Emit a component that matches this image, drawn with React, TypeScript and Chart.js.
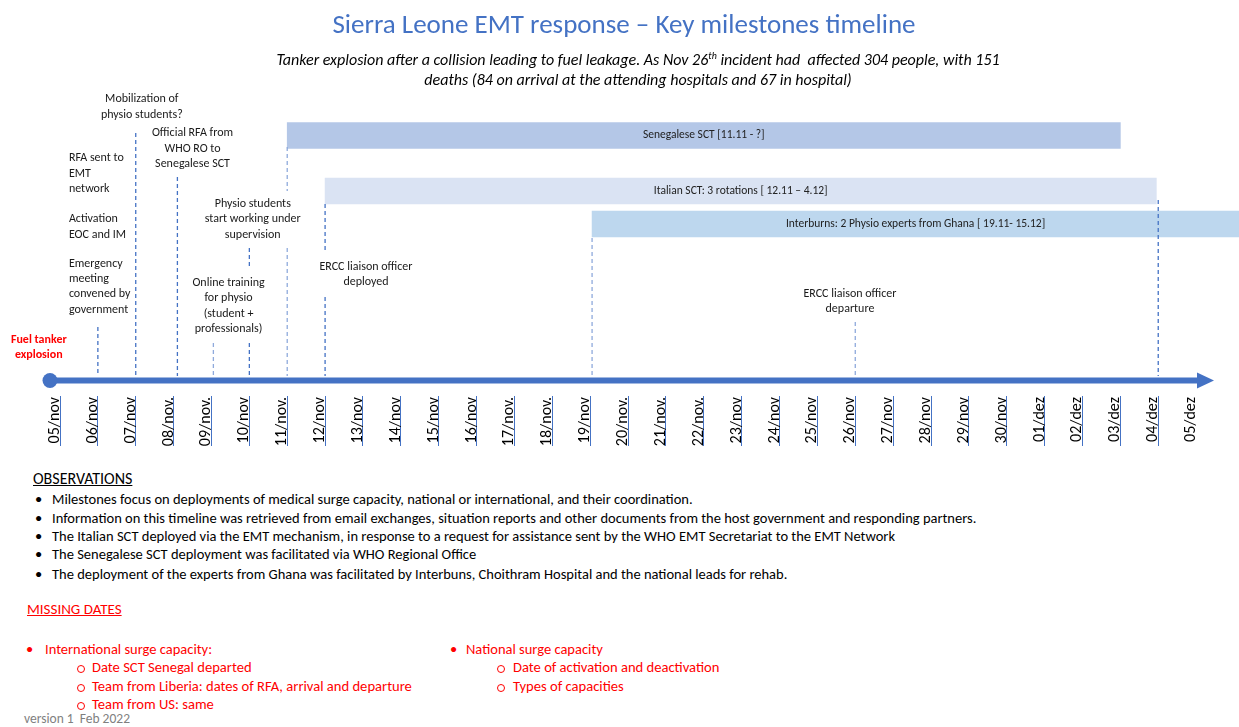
import React, { useEffect, useRef } from 'react';
import { Chart, registerables } from 'chart.js';

Chart.register(...registerables);

// ---------- data ----------
const DATE_LABELS = [
  '05/nov', '06/nov', '07/nov', '08/nov.', '09/nov.', '10/nov', '11/nov.', '12/nov',
  '13/nov', '14/nov', '15/nov', '16/nov', '17/nov.', '18/nov.', '19/nov', '20/nov.',
  '21/nov.', '22/nov.', '23/nov', '24/nov', '25/nov', '26/nov', '27/nov', '28/nov',
  '29/nov', '30/nov', '01/dez', '02/dez', '03/dez', '04/dez', '05/dez',
];

// day index counted from 05/nov
const BAR_LABELS = [
  'Senegalese SCT [11.11 - ?]',
  'Italian SCT: 3 rotations [ 12.11 – 4.12]',
  'Interburns: 2 Physio experts from Ghana [ 19.11- 15.12]',
];
const BAR_START = [6, 7, 14.05];
const BAR_END = [28, 28.95, 40];

const MILESTONE_DAYS = [1, 2, 3.1, 4.05, 5, 6, 7, 14.05, 21, 29];

const NOTE_TEXTS = [
  ['Mobilization of', 'physio students?'],
  ['RFA sent to', 'EMT', 'network'],
  ['Activation', 'EOC and IM'],
  ['Emergency', 'meeting', 'convened by', 'government'],
  ['Fuel tanker', 'explosion'],
  ['Official RFA from', 'WHO RO to', 'Senegalese SCT'],
  ['Physio students', 'start working under', 'supervision'],
  ['Online training', 'for physio', '(student +', 'professionals)'],
  ['ERCC liaison officer', 'deployed'],
  ['ERCC liaison officer', 'departure'],
];

const AXIS_START = -0.264;
const AXIS_END = 30.05;

const TITLE = 'Sierra Leone EMT response – Key milestones timeline';
const SUBTITLE_A = 'Tanker explosion after a collision leading to fuel leakage. As Nov 26';
const SUBTITLE_SUP = 'th';
const SUBTITLE_B = ' incident had  affected 304 people, with 151';
const SUBTITLE_2 = 'deaths (84 on arrival at the attending hospitals and 67 in hospital)';

const OBS_TITLE = 'OBSERVATIONS';
const OBSERVATIONS = [
  'Milestones focus on deployments of medical surge capacity, national or international, and their coordination.',
  'Information on this timeline was retrieved from email exchanges, situation reports and other documents from the host government and responding partners.',
  'The Italian SCT deployed via the EMT mechanism, in response to a request for assistance sent by the WHO EMT Secretariat to the EMT Network',
  'The Senegalese SCT deployment was facilitated via WHO Regional Office',
  'The deployment of the experts from Ghana was facilitated by Interbuns, Choithram Hospital and the national leads for rehab.',
];
const MISSING_TITLE = 'MISSING DATES';
const MISSING_LEFT_HEAD = 'International surge capacity:';
const MISSING_LEFT_ITEMS = ['Date SCT Senegal departed', 'Team from Liberia: dates of RFA, arrival and departure', 'Team from US: same'];
const MISSING_RIGHT_HEAD = 'National surge capacity';
const MISSING_RIGHT_ITEMS = ['Date of activation and deactivation', 'Types of capacities'];
const VERSION = 'version 1  Feb 2022';

// ---------- layout / style ----------
const FONT = 'Carlito, Lato, "Open Sans", sans-serif';
const W = 1239;
const CANVAS_H = 460;
const PLOT_BOTTOM = 396;
const X0_PX = 60; // pixel of first date
const PX_PER_DAY = 37.87;
const BLUE = '#4472C4';
const LIGHT = '#8FAADC';
const BAR_COLORS = ['#B4C7E7', '#DAE3F3', '#BDD7EE'];
const BAR_LANES = [135.5, 191, 224];
const AXIS_Y = 380.5;
const SEGMENTS: number[][][] = [
  [[327, 376]],
  [[133, 376]],
  [[177, 376]],
  [[343, 376]],
  [[248, 267], [343, 376]],
  [[147, 191], [248, 376]],
  [[204, 253], [297, 376]],
  [[238, 376]],
  [[322, 376]],
  [[200, 376]],
];
const SEG_COLORS = [BLUE, BLUE, BLUE, LIGHT, BLUE, LIGHT, BLUE, LIGHT, LIGHT, BLUE];
const NOTE_STEP = 15.4;
const NOTE_POS = [
  { x: 2.16, y: 99.3, align: 'center' },
  { x: 0.235, y: 158.3, align: 'left' },
  { x: 0.235, y: 219.3, align: 'left' },
  { x: 0.235, y: 263.5, align: 'left' },
  { x: -0.56, y: 340, align: 'center', color: '#FF0000', bold: true },
  { x: 3.5, y: 133.3, align: 'center' },
  { x: 5.09, y: 204, align: 'center' },
  { x: 4.45, y: 282.7, align: 'center' },
  { x: 8.08, y: 267, align: 'center' },
  { x: 20.86, y: 294, align: 'center' },
];

const notesPlugin = {
  id: 'notes',
  afterDatasetsDraw(chart: any) {
    const { ctx, chartArea } = chart;
    const xs = chart.scales.x;
    const ys = chart.scales.y;
    ctx.save();
    const meta = chart.getDatasetMeta(0);
    ctx.textAlign = 'center';
    ctx.textBaseline = 'middle';
    ctx.fillStyle = '#222';
    ctx.font = `11.5px ${FONT}`;
    meta.data.forEach((el: any, i: number) => {
      const a = Math.max(Math.min(el.base, el.x), chartArea.left);
      const b = Math.min(Math.max(el.base, el.x), chartArea.right);
      ctx.fillText(BAR_LABELS[i], (a + b) / 2, el.y);
    });
    NOTE_TEXTS.forEach((lines, i) => {
      const p: any = NOTE_POS[i];
      ctx.font = `${p.bold ? 'bold ' : ''}12px ${FONT}`;
      ctx.fillStyle = p.color || '#1a1a1a';
      ctx.textAlign = p.align;
      lines.forEach((line, k) => {
        ctx.fillText(line, xs.getPixelForValue(p.x), ys.getPixelForValue(p.y + k * NOTE_STEP));
      });
    });
    // arrow head
    const baseX = xs.getPixelForValue(AXIS_END);
    const y = ys.getPixelForValue(AXIS_Y);
    ctx.fillStyle = BLUE;
    ctx.beginPath();
    ctx.moveTo(baseX - 1, y - 8);
    ctx.lineTo(baseX + 16, y);
    ctx.lineTo(baseX - 1, y + 8);
    ctx.closePath();
    ctx.fill();
    ctx.restore();
  },
};

function buildDatasets() {
  const ds: any[] = [];
  ds.push({
    type: 'bar',
    indexAxis: 'y',
    data: BAR_LABELS.map((_, i) => ({ x: [BAR_START[i], BAR_END[i]], y: BAR_LANES[i] })),
    backgroundColor: BAR_COLORS,
    borderWidth: 0,
    barThickness: 26,
    order: 3,
  });
  MILESTONE_DAYS.forEach((d, i) => {
    SEGMENTS[i].forEach((seg) => {
      ds.push({
        type: 'line',
        data: [{ x: d, y: seg[0] }, { x: d, y: seg[1] }],
        borderColor: SEG_COLORS[i],
        borderWidth: 1.3,
        borderDash: [4, 3],
        pointRadius: 0,
        fill: false,
        order: 2,
      });
    });
  });
  ds.push({
    type: 'line',
    data: [{ x: AXIS_START, y: AXIS_Y }, { x: AXIS_END, y: AXIS_Y }],
    borderColor: BLUE,
    borderWidth: 6,
    pointRadius: [7.5, 0],
    pointBackgroundColor: BLUE,
    pointBorderWidth: 0,
    fill: false,
    order: 1,
  });
  return ds;
}

function Txt(props: { x: number; cy: number; size: number; color?: string; children: any; style?: any }) {
  const lh = props.size * 1.3;
  return (
    <div
      style={{
        position: 'absolute',
        left: props.x,
        top: props.cy - lh / 2,
        fontSize: props.size,
        lineHeight: `${lh}px`,
        color: props.color || '#000',
        whiteSpace: 'pre',
        ...props.style,
      }}
    >
      {props.children}
    </div>
  );
}

function Centered(props: { cx: number; cy: number; size: number; color?: string; children: any; style?: any }) {
  const lh = props.size * 1.3;
  return (
    <div
      style={{
        position: 'absolute',
        left: props.cx - 600,
        width: 1200,
        textAlign: 'center',
        top: props.cy - lh / 2,
        fontSize: props.size,
        lineHeight: `${lh}px`,
        color: props.color || '#000',
        whiteSpace: 'pre',
        ...props.style,
      }}
    >
      {props.children}
    </div>
  );
}

function Circle(props: { x: number; cy: number }) {
  return (
    <div
      style={{
        position: 'absolute',
        left: props.x,
        top: props.cy - 3,
        width: 6,
        height: 6,
        borderRadius: '50%',
        border: '1px solid #FF0000',
      }}
    />
  );
}

export default function App() {
  const ref = useRef<HTMLCanvasElement>(null);
  useEffect(() => {
    const chart = new Chart(ref.current as HTMLCanvasElement, {
      type: 'line',
      data: { datasets: buildDatasets() },
      options: {
        animation: false,
        responsive: false,
        maintainAspectRatio: false,
        layout: { padding: 0, autoPadding: false },
        plugins: { legend: { display: false }, tooltip: { enabled: false }, title: { display: false } },
        scales: {
          x: {
            type: 'linear',
            min: (0 - X0_PX) / PX_PER_DAY,
            max: (W - X0_PX) / PX_PER_DAY,
            offset: false,
            afterBuildTicks: (s: any) => {
              s.ticks = DATE_LABELS.map((_, i) => ({ value: i }));
            },
            afterFit: (s: any) => {
              s.height = CANVAS_H - PLOT_BOTTOM;
            },
            ticks: {
              autoSkip: false,
              minRotation: 90,
              maxRotation: 90,
              padding: -49,
              labelOffset: -5,
              color: '#000',
              font: { family: FONT, size: 16 },
              callback: (v: any) => DATE_LABELS[v] ?? '',
            },
            grid: {
              display: true,
              offset: false,
              drawOnChartArea: false,
              drawTicks: true,
              tickLength: 50,
              lineWidth: 1,
              color: (c: any) => (c.tick && c.tick.value === DATE_LABELS.length - 1 ? 'rgba(0,0,0,0)' : BLUE),
            },
            border: { display: false },
          },
          y: {
            type: 'linear',
            min: 0,
            max: PLOT_BOTTOM,
            reverse: true,
            offset: false,
            display: false,
            grid: { offset: false },
          },
        },
      } as any,
      plugins: [notesPlugin],
    });
    // calibrate scales so that layout units equal canvas pixels
    const calibrate = () => {
      const ca = chart.chartArea;
      const sc: any = chart.options.scales;
      sc.y.min = ca.top;
      sc.y.max = ca.bottom;
      sc.x.min = (ca.left - X0_PX) / PX_PER_DAY;
      sc.x.max = (ca.right - X0_PX) / PX_PER_DAY;
      chart.update('none');
    };
    calibrate();
    calibrate();
    return () => chart.destroy();
  }, []);

  const obsY = [499, 518, 536, 554.5, 574];
  const leftY = [667, 686, 704];
  const rightY = [667, 686];
  return (
    <div style={{ position: 'absolute', left: 0, top: 0, width: W, height: 727, overflow: 'hidden', background: '#fff', fontFamily: FONT }}>
      <canvas ref={ref} width={W} height={CANVAS_H} style={{ position: 'absolute', left: 0, top: 0 }} />
      <Centered cx={624} cy={24} size={27} color={BLUE}>{TITLE}</Centered>
      <Centered cx={638} cy={60} size={16} style={{ fontStyle: 'italic' }}>
        {SUBTITLE_A}<sup style={{ fontSize: 10, lineHeight: 0 }}>{SUBTITLE_SUP}</sup>{SUBTITLE_B}
      </Centered>
      <Centered cx={638} cy={80} size={16} style={{ fontStyle: 'italic' }}>{SUBTITLE_2}</Centered>

      <Txt x={33} cy={479} size={16} style={{ textDecoration: 'underline' }}>{OBS_TITLE}</Txt>
      {OBSERVATIONS.map((t, i) => (
        <React.Fragment key={i}>
          <Txt x={35} cy={obsY[i]} size={14.5}>•</Txt>
          <Txt x={52} cy={obsY[i]} size={14.5}>{t}</Txt>
        </React.Fragment>
      ))}

      <Txt x={27} cy={610} size={15} color="#FF0000" style={{ textDecoration: 'underline' }}>{MISSING_TITLE}</Txt>
      <Txt x={26} cy={649} size={14.5} color="#FF0000">•</Txt>
      <Txt x={45} cy={649} size={14.5} color="#FF0000">{MISSING_LEFT_HEAD}</Txt>
      {MISSING_LEFT_ITEMS.map((t, i) => (
        <React.Fragment key={i}>
          <Circle x={77} cy={leftY[i] + 1} />
          <Txt x={92} cy={leftY[i]} size={14.6} color="#FF0000">{t}</Txt>
        </React.Fragment>
      ))}
      <Txt x={450} cy={649} size={14.5} color="#FF0000">•</Txt>
      <Txt x={466} cy={649} size={14.5} color="#FF0000">{MISSING_RIGHT_HEAD}</Txt>
      {MISSING_RIGHT_ITEMS.map((t, i) => (
        <React.Fragment key={i}>
          <Circle x={497} cy={rightY[i] + 1} />
          <Txt x={513} cy={rightY[i]} size={14.6} color="#FF0000">{t}</Txt>
        </React.Fragment>
      ))}
      <Txt x={24} cy={719} size={13.5} color="#7F7F7F">{VERSION}</Txt>
    </div>
  );
}
